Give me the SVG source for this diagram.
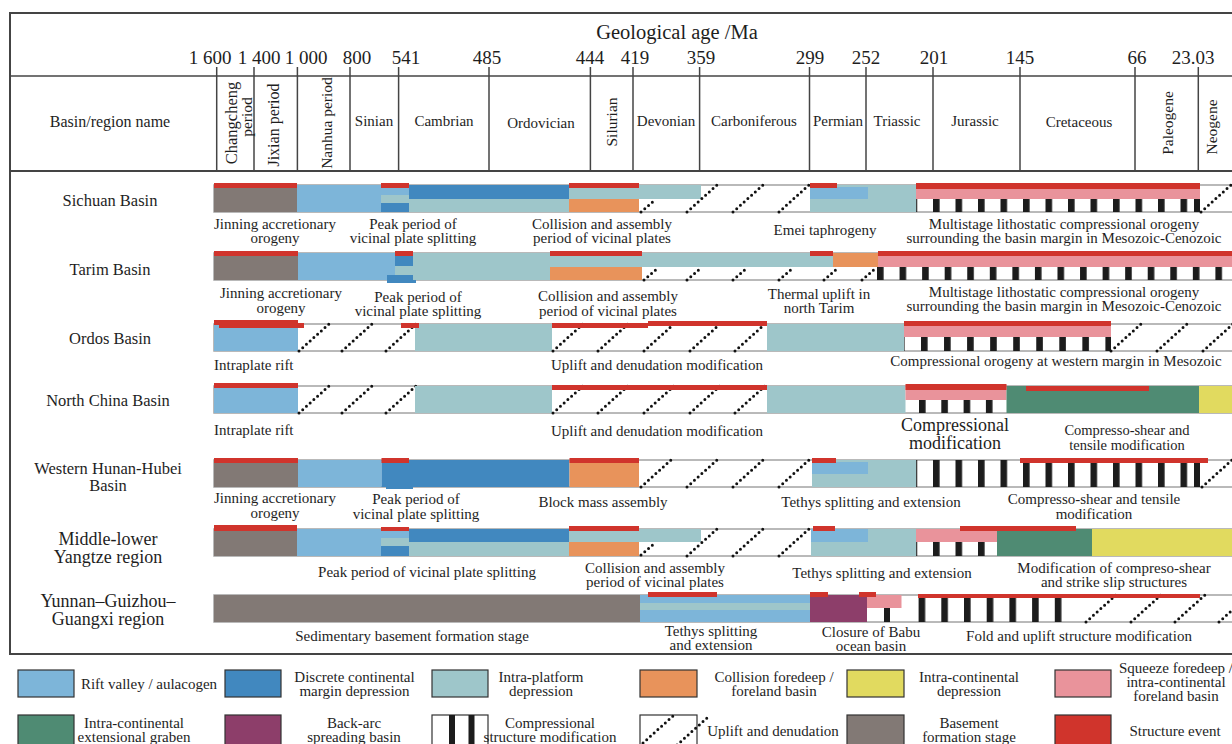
<svg xmlns="http://www.w3.org/2000/svg" width="1232" height="744" viewBox="0 0 1232 744">
<defs>
<style>
text{font-family:"Liberation Serif","Times New Roman",serif;fill:#1e1e1e}
.h{font-size:15px;text-anchor:middle}
.rt{font-size:15.5px;text-anchor:middle}
.age{font-size:19px;text-anchor:middle}
.n{font-size:16.5px;text-anchor:middle}
.nb{font-size:18px;text-anchor:middle}
.a{font-size:15px;text-anchor:middle}
.as{font-size:15px}
.ab{font-size:18px;text-anchor:middle}
.a2{font-size:14.5px;text-anchor:middle}
.row{fill:#fff;stroke:#a3a3a3;stroke-width:1.5}
.frame{fill:none;stroke:#444;stroke-width:2}
.col{stroke:#444;stroke-width:1.5}
.leg{stroke:#333;stroke-width:1.2}
.up{fill:none;stroke:#111;stroke-width:3;stroke-dasharray:0 5;stroke-linecap:round}
.g{fill:#827975}
.rf{fill:#7DB5D9}
.dc{fill:#4188BF}
.ip{fill:#9EC6CA}
.cf{fill:#E8935B}
.ye{fill:#E1DA5F}
.pk{fill:#E9939B}
.gr{fill:#4F8B73}
.pu{fill:#8D3E6A}
.ev{fill:#D0342C}
.bk{fill:#1c1c1c}
.wh{fill:#fff}
</style>
<path id="upF" class="up" d="M0,27 L30,0"/>
<path id="upH" class="up" d="M0,13 L15,0"/>
<pattern id="c1" patternUnits="userSpaceOnUse" x="933" y="0" width="22.5" height="800"><rect class="bk" width="6.6" height="800"/></pattern>
<pattern id="c2" patternUnits="userSpaceOnUse" x="877" y="0" width="22.56" height="800"><rect class="bk" width="6.6" height="800"/></pattern>
<pattern id="c3" patternUnits="userSpaceOnUse" x="921" y="0" width="23.05" height="800"><rect class="bk" width="6.6" height="800"/></pattern>
<pattern id="c4" patternUnits="userSpaceOnUse" x="919" y="0" width="22.3" height="800"><rect class="bk" width="6.6" height="800"/></pattern>
<pattern id="c5" patternUnits="userSpaceOnUse" x="918.6" y="0" width="22.7" height="800"><rect class="bk" width="6.6" height="800"/></pattern>
</defs>
<rect width="1232" height="744" fill="#fff"/>

<g id="header">
<path class="frame" d="M1234,13 H10 V654 H1234"/>
<line class="col" x1="10" y1="76" x2="1234" y2="76"/>
<line class="frame" x1="10" y1="171" x2="1234" y2="171"/>
<text x="677" y="39" style="font-size:20.5px;text-anchor:middle">Geological age /Ma</text>
<text class="age" x="210" y="64">1 600</text>
<text class="age" x="259" y="64">1 400</text>
<text class="age" x="306" y="64">1 000</text>
<text class="age" x="357" y="64">800</text>
<text class="age" x="406" y="64">541</text>
<text class="age" x="487" y="64">485</text>
<text class="age" x="590" y="64">444</text>
<text class="age" x="635" y="64">419</text>
<text class="age" x="701" y="64">359</text>
<text class="age" x="810" y="64">299</text>
<text class="age" x="866" y="64">252</text>
<text class="age" x="934" y="64">201</text>
<text class="age" x="1020" y="64">145</text>
<text class="age" x="1137" y="64">66</text>
<text class="age" x="1193" y="64">23.03</text>
<g class="col">
<line x1="216.7" y1="67" x2="216.7" y2="171"/>
<line x1="254" y1="67" x2="254" y2="171"/>
<line x1="297.4" y1="67" x2="297.4" y2="171"/>
<line x1="350" y1="67" x2="350" y2="171"/>
<line x1="398.6" y1="67" x2="398.6" y2="171"/>
<line x1="489" y1="67" x2="489" y2="171"/>
<line x1="590.4" y1="67" x2="590.4" y2="171"/>
<line x1="633" y1="67" x2="633" y2="171"/>
<line x1="699.6" y1="67" x2="699.6" y2="171"/>
<line x1="809.5" y1="67" x2="809.5" y2="171"/>
<line x1="866" y1="67" x2="866" y2="171"/>
<line x1="933" y1="67" x2="933" y2="171"/>
<line x1="1020" y1="67" x2="1020" y2="171"/>
<line x1="1135" y1="67" x2="1135" y2="171"/>
<line x1="1198.3" y1="67" x2="1198.3" y2="171"/>
</g>
<text x="110" y="127" style="font-size:16px;text-anchor:middle">Basin/region name</text>
<text class="rt" transform="translate(236.5,123) rotate(-90)" style="font-size:16.5px">Changcheng</text>
<text class="rt" transform="translate(251.5,117) rotate(-90)">period</text>
<text class="rt" transform="translate(279,125) rotate(-90)" style="font-size:16px">Jixian period</text>
<text class="rt" transform="translate(332,123) rotate(-90)">Nanhua period</text>
<text class="h" x="374" y="126">Sinian</text>
<text class="h" x="444" y="126">Cambrian</text>
<text class="h" x="541" y="128">Ordovician</text>
<text class="rt" transform="translate(616.5,122) rotate(-90)">Silurian</text>
<text class="h" x="666" y="126">Devonian</text>
<text class="h" x="754" y="126">Carboniferous</text>
<text class="h" x="838" y="126">Permian</text>
<text class="h" x="897" y="126">Triassic</text>
<text class="h" x="975" y="126">Jurassic</text>
<text class="h" x="1079" y="127">Cretaceous</text>
<text class="rt" transform="translate(1172.5,123) rotate(-90)">Paleogene</text>
<text class="rt" transform="translate(1217,127) rotate(-90)">Neogene</text>
</g>

<g id="row-sichuan">
<text class="n" x="110" y="206">Sichuan Basin</text>
<rect class="row" x="214" y="185" width="1020" height="27"/>
<rect class="g" x="214" y="185" width="83" height="27"/>
<rect class="rf" x="297" y="185" width="84" height="27"/>
<rect class="rf" x="381" y="185" width="28" height="10"/>
<rect class="ip" x="381" y="195" width="28" height="8"/>
<rect class="dc" x="381" y="203" width="28" height="9"/>
<rect class="dc" x="409" y="185" width="160" height="14"/>
<rect class="ip" x="409" y="199" width="160" height="13"/>
<rect class="ip" x="569" y="185" width="132" height="14"/>
<rect class="cf" x="569" y="199" width="70" height="13"/>
<use href="#upH" x="641" y="199"/>
<use href="#upF" x="687" y="185"/>
<use href="#upF" x="733" y="185"/>
<use href="#upF" x="779" y="185"/>
<rect class="ip" x="810" y="185" width="106" height="27"/>
<rect class="rf" x="810" y="187" width="58" height="12"/>
<rect class="pk" x="916" y="185" width="284" height="14"/>
<rect fill="url(#c1)" x="916" y="199" width="284" height="13"/>
<rect class="bk" x="1194" y="199" width="6" height="13"/>
<use href="#upF" x="1201" y="185"/>
<rect class="ev" x="214" y="183" width="83" height="5"/>
<rect class="ev" x="381" y="183" width="28" height="5"/>
<rect class="ev" x="569" y="183" width="70" height="5"/>
<rect class="ev" x="810" y="183" width="27" height="5"/>
<rect class="ev" x="916" y="183" width="284" height="6"/>
<text class="a" x="275" y="229">Jinning accretionary</text>
<text class="a" x="275" y="243">orogeny</text>
<text class="a" x="413" y="229">Peak period of</text>
<text class="a" x="413" y="243">vicinal plate splitting</text>
<text class="a" x="602" y="229">Collision and assembly</text>
<text class="a" x="602" y="243">period of vicinal plates</text>
<text class="a" x="825" y="235">Emei taphrogeny</text>
<text class="a" x="1064" y="229">Multistage lithostatic compressional orogeny</text>
<text class="a" x="1064" y="243">surrounding the basin margin in Mesozoic-Cenozoic</text>
</g>

<g id="row-tarim">
<text class="n" x="110" y="275">Tarim Basin</text>
<rect class="row" x="214" y="253" width="1020" height="27"/>
<rect class="g" x="214" y="253" width="84" height="27"/>
<rect class="rf" x="298" y="253" width="97" height="27"/>
<rect class="dc" x="395" y="255" width="18" height="11"/>
<rect class="ip" x="395" y="266" width="18" height="9"/>
<rect class="dc" x="387" y="275" width="29" height="8"/>
<rect class="ip" x="413" y="253" width="137" height="27"/>
<rect class="ip" x="550" y="253" width="283" height="14"/>
<rect class="cf" x="550" y="267" width="92" height="13"/>
<rect class="cf" x="833" y="253" width="45" height="14"/>
<rect class="pk" x="878" y="253" width="356" height="14"/>
<rect fill="url(#c2)" x="877" y="267" width="357" height="13"/>
<use href="#upH" x="644" y="267"/>
<use href="#upH" x="687" y="267"/>
<use href="#upH" x="733" y="267"/>
<use href="#upH" x="779" y="267"/>
<use href="#upH" x="824" y="267"/>
<use href="#upH" x="862" y="267"/>
<rect class="ev" x="214" y="251" width="84" height="5"/>
<rect class="ev" x="395" y="251" width="18" height="5"/>
<rect class="ev" x="550" y="251" width="92" height="5"/>
<rect class="ev" x="810" y="251" width="23" height="5"/>
<rect class="ev" x="878" y="251" width="356" height="5"/>
<text class="a" x="281" y="298">Jinning accretionary</text>
<text class="a" x="281" y="313">orogeny</text>
<text class="a" x="418" y="302">Peak period of</text>
<text class="a" x="418" y="316">vicinal plate splitting</text>
<text class="a" x="608" y="301">Collision and assembly</text>
<text class="a" x="608" y="316">period of vicinal plates</text>
<text class="a" x="819" y="299">Thermal uplift in</text>
<text class="a" x="819" y="313">north Tarim</text>
<text class="a" x="1064" y="297">Multistage lithostatic compressional orogeny</text>
<text class="a" x="1064" y="311">surrounding the basin margin in Mesozoic-Cenozoic</text>
</g>

<g id="row-ordos">
<text class="n" x="110" y="344">Ordos Basin</text>
<rect class="row" x="214" y="324" width="1020" height="27"/>
<rect class="rf" x="214" y="324" width="84" height="27"/>
<use href="#upF" x="299" y="324"/>
<use href="#upF" x="342" y="324"/>
<use href="#upF" x="386" y="324"/>
<rect class="ip" x="415" y="324" width="137" height="27"/>
<use href="#upF" x="553" y="324"/>
<use href="#upF" x="598" y="324"/>
<use href="#upF" x="644" y="324"/>
<use href="#upF" x="690" y="324"/>
<use href="#upF" x="735" y="324"/>
<rect class="ip" x="767" y="324" width="137" height="27"/>
<rect class="pk" x="904" y="324" width="207" height="13"/>
<rect fill="url(#c3)" x="904" y="337" width="207" height="14"/>
<use href="#upF" x="1111" y="324"/>
<use href="#upF" x="1157" y="324"/>
<use href="#upF" x="1203" y="324"/>
<rect class="ev" x="214" y="320" width="84" height="5"/>
<rect class="ev" x="219" y="323" width="85" height="5"/>
<rect class="ev" x="401" y="323" width="18" height="5"/>
<rect class="ev" x="552" y="323" width="96" height="5"/>
<rect class="ev" x="648" y="321" width="119" height="5"/>
<rect class="ev" x="904" y="321" width="207" height="5"/>
<text class="as" x="214" y="370">Intraplate rift</text>
<text class="a" x="657" y="370">Uplift and denudation modification</text>
<text class="a" x="1056" y="366">Compressional orogeny at western margin in Mesozoic</text>
</g>

<g id="row-northchina">
<text class="n" x="108" y="406">North China Basin</text>
<rect class="row" x="214" y="386" width="1020" height="27"/>
<rect class="rf" x="214" y="386" width="84" height="27"/>
<use href="#upF" x="299" y="386"/>
<use href="#upF" x="342" y="386"/>
<use href="#upF" x="386" y="386"/>
<rect class="ip" x="415" y="386" width="137" height="27"/>
<use href="#upF" x="553" y="386"/>
<use href="#upF" x="598" y="386"/>
<use href="#upF" x="644" y="386"/>
<use href="#upF" x="690" y="386"/>
<use href="#upF" x="735" y="386"/>
<rect class="ip" x="767" y="386" width="138.5" height="27"/>
<rect class="pk" x="905.5" y="386" width="101" height="14"/>
<rect fill="url(#c4)" x="905.5" y="400" width="101" height="13"/>
<rect class="gr" x="1006.5" y="386" width="192.5" height="27"/>
<rect class="ye" x="1199" y="386" width="35" height="27"/>
<rect class="ev" x="214" y="383" width="84" height="5"/>
<rect class="ev" x="552" y="385" width="215" height="5"/>
<rect class="ev" x="905.5" y="384" width="101" height="6"/>
<rect class="ev" x="1026" y="386" width="123" height="5"/>
<text class="as" x="214" y="435">Intraplate rift</text>
<text class="a" x="657" y="436">Uplift and denudation modification</text>
<text class="ab" x="955" y="431">Compressional</text>
<text class="ab" x="955" y="449">modification</text>
<text class="a2" x="1127" y="435">Compresso-shear and</text>
<text class="a2" x="1127" y="450">tensile modification</text>
</g>

<g id="row-hunanhubei">
<text class="n" x="108" y="474">Western Hunan-Hubei</text>
<text class="n" x="108" y="491">Basin</text>
<rect class="row" x="214" y="460" width="1020" height="27"/>
<rect class="g" x="214" y="460" width="84" height="27"/>
<rect class="rf" x="298" y="460" width="83.5" height="27"/>
<rect class="dc" x="381.5" y="460" width="188" height="27"/>
<rect class="dc" x="386" y="484" width="27" height="5"/>
<rect class="cf" x="569.5" y="460" width="69.5" height="27"/>
<use href="#upF" x="641" y="460"/>
<use href="#upF" x="687" y="460"/>
<use href="#upF" x="733" y="460"/>
<use href="#upF" x="779" y="460"/>
<rect class="ip" x="812" y="460" width="104" height="27"/>
<rect class="rf" x="812" y="462" width="56" height="12"/>
<rect fill="url(#c1)" x="916" y="460" width="284" height="27"/>
<rect class="bk" x="1194" y="460" width="6" height="27"/>
<use href="#upF" x="1202" y="460"/>
<rect class="ev" x="214" y="458" width="84" height="5"/>
<rect class="ev" x="381.5" y="458" width="27.5" height="5"/>
<rect class="ev" x="569.5" y="458" width="69.5" height="5"/>
<rect class="ev" x="812" y="458" width="24" height="5"/>
<rect class="ev" x="1020" y="458" width="188" height="5"/>
<text class="a" x="275" y="503">Jinning accretionary</text>
<text class="a" x="275" y="518">orogeny</text>
<text class="a" x="416" y="504">Peak period of</text>
<text class="a" x="416" y="519">vicinal plate splitting</text>
<text class="a" x="603" y="507">Block mass assembly</text>
<text class="a" x="871" y="507">Tethys splitting and extension</text>
<text class="a" x="1094" y="504">Compresso-shear and tensile</text>
<text class="a" x="1094" y="519">modification</text>
</g>

<g id="row-yangtze">
<text class="nb" x="108" y="545">Middle-lower</text>
<text class="nb" x="108" y="563">Yangtze region</text>
<rect class="row" x="214" y="529" width="1020" height="27"/>
<rect class="g" x="214" y="529" width="83" height="27"/>
<rect class="rf" x="297" y="529" width="84" height="27"/>
<rect class="rf" x="381" y="529" width="28" height="9"/>
<rect class="ip" x="381" y="538" width="28" height="8"/>
<rect class="dc" x="381" y="546" width="28" height="10"/>
<rect class="dc" x="409" y="529" width="160" height="13"/>
<rect class="ip" x="409" y="542" width="160" height="14"/>
<rect class="ip" x="569" y="529" width="132" height="13"/>
<rect class="cf" x="569" y="542" width="70" height="14"/>
<use href="#upH" x="641" y="542"/>
<use href="#upF" x="687" y="529"/>
<use href="#upF" x="733" y="529"/>
<use href="#upF" x="779" y="529"/>
<rect class="rf" x="811" y="529" width="57" height="13"/>
<rect class="ip" x="811" y="542" width="57" height="14"/>
<rect class="ip" x="868" y="529" width="48" height="27"/>
<rect class="pk" x="916" y="529" width="81" height="13"/>
<rect fill="url(#c1)" x="916" y="542" width="81" height="14"/>
<rect class="gr" x="997" y="529" width="95" height="27"/>
<rect class="ye" x="1092" y="529" width="142" height="27"/>
<rect class="ev" x="214" y="525" width="83" height="6"/>
<rect class="ev" x="381" y="527" width="28" height="4"/>
<rect class="ev" x="569" y="526" width="70" height="5"/>
<rect class="ev" x="813" y="526" width="22" height="5"/>
<rect class="ev" x="960" y="526" width="116" height="5"/>
<text class="a" x="427" y="577">Peak period of vicinal plate splitting</text>
<text class="a" x="655" y="573">Collision and assembly</text>
<text class="a" x="655" y="587">period of vicinal plates</text>
<text class="a" x="882" y="578">Tethys splitting and extension</text>
<text class="a" x="1114" y="573">Modification of compreso-shear</text>
<text class="a" x="1114" y="587">and strike slip structures</text>
</g>

<g id="row-yunnan">
<text class="nb" x="108" y="607">Yunnan–Guizhou–</text>
<text class="nb" x="108" y="625">Guangxi region</text>
<rect class="row" x="214" y="595" width="1020" height="27"/>
<rect class="g" x="214" y="595" width="426" height="27"/>
<rect class="rf" x="640" y="595" width="170" height="27"/>
<rect class="ip" x="640" y="603" width="170" height="7"/>
<rect class="pu" x="810" y="595" width="57" height="27"/>
<rect class="pk" x="867" y="595" width="34.5" height="13"/>
<rect class="bk" x="884" y="608" width="6" height="14"/>
<rect fill="url(#c5)" x="916" y="595" width="146" height="27"/>
<use href="#upF" x="1086" y="595"/>
<use href="#upF" x="1131" y="595"/>
<use href="#upF" x="1175" y="595"/>
<use href="#upF" x="1219" y="595"/>
<rect class="ev" x="648" y="592" width="69" height="5"/>
<rect class="ev" x="810" y="592" width="18" height="5"/>
<rect class="ev" x="859" y="592" width="17" height="5"/>
<rect class="ev" x="918" y="594" width="282" height="4"/>
<text class="a" x="412" y="641">Sedimentary basement formation stage</text>
<text class="a" x="711" y="636">Tethys splitting</text>
<text class="a" x="711" y="650">and extension</text>
<text class="a" x="871" y="637">Closure of Babu</text>
<text class="a" x="871" y="651">ocean basin</text>
<text class="a" x="1079" y="641">Fold and uplift structure modification</text>
</g>

<g id="legend">
<g id="lg-rift"><rect class="rf leg" x="18" y="670" width="56" height="27"/><text class="a" x="149" y="689">Rift valley / aulacogen</text></g>
<g id="lg-discrete"><rect class="dc leg" x="225" y="670" width="56" height="27"/><text class="a" x="354.5" y="682">Discrete continental</text><text class="a" x="354.5" y="696">margin depression</text></g>
<g id="lg-intraplatform"><rect class="ip leg" x="432" y="670" width="56" height="27"/><text class="a" x="541" y="682">Intra-platform</text><text class="a" x="541" y="696">depression</text></g>
<g id="lg-collision"><rect class="cf leg" x="640" y="670" width="57" height="27"/><text class="a" x="774" y="682">Collision foredeep /</text><text class="a" x="774" y="696">foreland basin</text></g>
<g id="lg-intracont"><rect class="ye leg" x="847" y="670" width="57" height="27"/><text class="a" x="969" y="682">Intra-continental</text><text class="a" x="969" y="696">depression</text></g>
<g id="lg-squeeze"><rect class="pk leg" x="1055" y="670" width="56" height="27"/><text class="a" x="1176" y="673">Squeeze foredeep /</text><text class="a" x="1176" y="687">intra-continental</text><text class="a" x="1176" y="701">foreland basin</text></g>
<g id="lg-graben"><rect class="gr leg" x="18" y="715" width="56" height="32"/><text class="a" x="134" y="728">Intra-continental</text><text class="a" x="134" y="742">extensional graben</text></g>
<g id="lg-backarc"><rect class="pu leg" x="225" y="715" width="56" height="32"/><text class="a" x="354" y="728">Back-arc</text><text class="a" x="354" y="742">spreading basin</text></g>
<g id="lg-compress"><rect class="wh leg" x="432" y="715" width="56" height="32"/><rect class="bk" x="449" y="715" width="6" height="32"/><rect class="bk" x="468.5" y="715" width="6" height="32"/><text class="a" x="550" y="728">Compressional</text><text class="a" x="550" y="742">structure modification</text></g>
<g id="lg-uplift"><rect class="wh leg" x="640" y="715" width="57" height="32"/><use href="#upF" x="643" y="716"/><use href="#upF" x="677" y="718"/><text class="a" x="773" y="736">Uplift and denudation</text></g>
<g id="lg-basement"><rect class="g leg" x="847" y="715" width="57" height="32"/><text class="a" x="969" y="728">Basement</text><text class="a" x="969" y="742">formation stage</text></g>
<g id="lg-event"><rect class="ev leg" x="1055" y="715" width="56" height="32"/><text class="a" x="1175" y="736">Structure event</text></g>
</g>
</svg>
